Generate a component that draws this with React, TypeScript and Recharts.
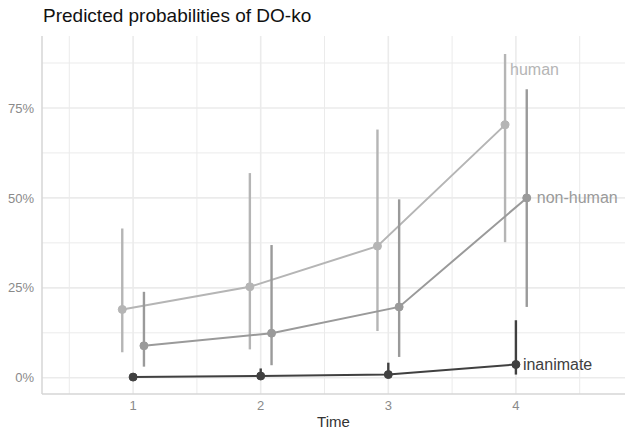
import React from 'react';
import {
  ComposedChart,
  Line,
  XAxis,
  YAxis,
  ErrorBar,
  ReferenceLine,
} from 'recharts';

const times = [1, 2, 3, 4];
const humanProb = [0.19, 0.253, 0.366, 0.703];
const humanLow = [0.071, 0.079, 0.13, 0.377];
const humanHigh = [0.415, 0.569, 0.69, 0.9];
const nonHumanProb = [0.089, 0.124, 0.197, 0.5];
const nonHumanLow = [0.031, 0.035, 0.058, 0.197];
const nonHumanHigh = [0.239, 0.369, 0.496, 0.802];
const inanimateProb = [0.002, 0.005, 0.009, 0.037];
const inanimateLow = [0.0, 0.0, 0.0, 0.009];
const inanimateHigh = [0.006, 0.026, 0.042, 0.16];
const yTicks = [0, 0.25, 0.5, 0.75];
const yMinor = [0.125, 0.375, 0.625, 0.875];
const xMinor = [0.5, 1.5, 2.5, 3.5, 4.5];

const build = (p: number[], lo: number[], hi: number[], dodge: number) =>
  times.map((t, i) => ({ x: t + dodge, y: p[i], err: [p[i] - lo[i], hi[i] - p[i]] }));

const humanData = build(humanProb, humanLow, humanHigh, -0.085);
const nonHumanData = build(nonHumanProb, nonHumanLow, nonHumanHigh, 0.085);
const inanimateData = build(inanimateProb, inanimateLow, inanimateHigh, 0);

const FONT = '"Liberation Sans", Arial, sans-serif';
const GRID = '#ebebeb';

const endLabel = (text: string, color: string, dx: number, dy: number) => (props: any) => {
  const { x, y, index } = props;
  if (index !== times.length - 1) return null;
  return (
    <text x={x + dx} y={y + dy} fill={color} fontSize={16} fontFamily={FONT} dominantBaseline="central">
      {text}
    </text>
  );
};

export default function App() {
  return (
    <div style={{ position: 'absolute', left: 0, top: 0, width: 625, height: 430, background: '#fff' }}>
      <div
        style={{
          position: 'absolute',
          left: 43,
          top: 5,
          fontFamily: FONT,
          fontSize: 19,
          color: '#111',
          whiteSpace: 'nowrap',
        }}
      >
        Predicted probabilities of DO-ko
      </div>
      <ComposedChart
        width={625}
        height={430}
        margin={{ top: 36, right: 0, bottom: 0, left: 0 }}
        style={{ fontFamily: FONT }}
      >
        <XAxis
          type="number"
          dataKey="x"
          domain={[0.286, 4.855]}
          ticks={times}
          allowDataOverflow
          height={36}
          tickLine={false}
          tickSize={0}
          tickMargin={7}
          axisLine={{ stroke: '#d6d6d6', strokeWidth: 1.5 }}
          tick={{ fill: '#8a8a8a', fontSize: 13 }}
          label={{ value: 'Time', position: 'insideBottom', offset: 3, fill: '#333', fontSize: 15 }}
        />
        <YAxis
          type="number"
          domain={[-0.045, 0.95]}
          ticks={yTicks}
          allowDataOverflow
          width={42}
          tickLine={false}
          tickSize={0}
          tickMargin={8}
          axisLine={{ stroke: '#d6d6d6', strokeWidth: 1.5 }}
          tick={{ fill: '#8a8a8a', fontSize: 13 }}
          tickFormatter={(v: number) => `${Math.round(v * 100)}%`}
        />
        {yMinor.map((v) => (
          <ReferenceLine key={'ym' + v} y={v} stroke={GRID} strokeWidth={1} />
        ))}
        {xMinor.map((v) => (
          <ReferenceLine key={'xm' + v} x={v} stroke={GRID} strokeWidth={1} />
        ))}
        {yTicks.map((v) => (
          <ReferenceLine key={'yM' + v} y={v} stroke={GRID} strokeWidth={1.6} />
        ))}
        {times.map((v) => (
          <ReferenceLine key={'xM' + v} x={v} stroke={GRID} strokeWidth={1.6} />
        ))}
        <Line
          data={humanData}
          dataKey="y"
          stroke="#b5b5b5"
          strokeWidth={2}
          dot={{ r: 4, fill: '#b5b5b5', stroke: '#b5b5b5', strokeWidth: 1 }}
          isAnimationActive={false}
          label={endLabel('human', '#b5b5b5', 5, -55)}
        >
          <ErrorBar dataKey="err" width={0} stroke="#b5b5b5" strokeWidth={2.4} direction="y" />
        </Line>
        <Line
          data={nonHumanData}
          dataKey="y"
          stroke="#9a9a9a"
          strokeWidth={2}
          dot={{ r: 4, fill: '#9a9a9a', stroke: '#9a9a9a', strokeWidth: 1 }}
          isAnimationActive={false}
          label={endLabel('non-human', '#9a9a9a', 10, 0)}
        >
          <ErrorBar dataKey="err" width={0} stroke="#9a9a9a" strokeWidth={2.4} direction="y" />
        </Line>
        <Line
          data={inanimateData}
          dataKey="y"
          stroke="#404040"
          strokeWidth={2}
          dot={{ r: 4, fill: '#404040', stroke: '#404040', strokeWidth: 1 }}
          isAnimationActive={false}
          label={endLabel('inanimate', '#404040', 7, 0)}
        >
          <ErrorBar dataKey="err" width={0} stroke="#404040" strokeWidth={2.4} direction="y" />
        </Line>
      </ComposedChart>
    </div>
  );
}
